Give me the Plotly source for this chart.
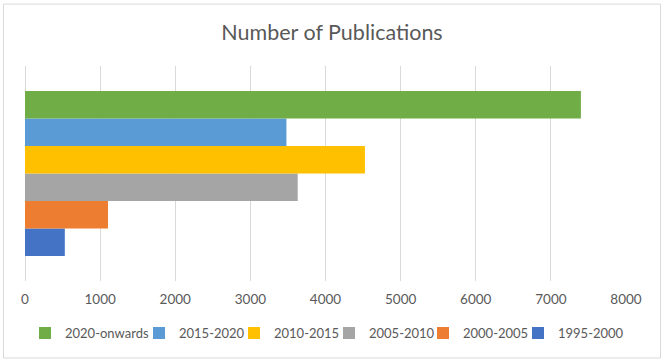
"""
Number of Publications - horizontal grouped bar chart
"""

import plotly.graph_objects as go

# Data
periods = ['1995-2000', '2000-2005', '2005-2010', '2010-2015', '2015-2020', '2020-onwards']
publications = [530, 1105, 3630, 4525, 3480, 7400]
colors = ['#4472C4', '#ED7D31', '#A5A5A5', '#FFC000', '#5B9BD5', '#70AD47']
category = ['Publications']
x_ticks = [0, 1000, 2000, 3000, 4000, 5000, 6000, 7000, 8000]

FONT = 'Lato, "Open Sans", sans-serif'

# Left edge (px) of each legend entry's text, in the same order as periods.
# Each entry gets its own legend so the row can be packed like the original.
legend_text_px = [556, 461, 367, 272, 177, 63]
PLOT_L, PLOT_W = 25, 601

fig = go.Figure()

legend_layouts = {}
for i, (period, value, color) in enumerate(zip(periods, publications, colors)):
    key = 'legend' if i == 0 else f'legend{i + 1}'
    fig.add_trace(go.Bar(
        name=period,
        x=[value],
        y=category,
        orientation='h',
        marker=dict(color=color, line=dict(width=0)),
        legend=key,
        showlegend=True,
    ))
    legend_layouts[key] = dict(
        orientation='h',
        x=(legend_text_px[i] - 38 - PLOT_L) / PLOT_W,
        xanchor='left',
        y=-0.242,
        yanchor='middle',
        font=dict(size=13, color='#595959'),
        itemwidth=30,
        bgcolor='rgba(0,0,0,0)',
    )

fig.update_layout(
    width=664,
    height=363,
    showlegend=True,
    barmode='group',
    bargap=0.233,
    bargroupgap=0,
    paper_bgcolor='white',
    plot_bgcolor='white',
    font=dict(family=FONT, color='#595959', size=12),
    title=dict(
        text='Number of Publications',
        x=0.5,
        xref='container',
        y=1 - 32 / 363,
        yanchor='middle',
        font=dict(family=FONT, size=21.5, color='#595959'),
    ),
    xaxis=dict(
        range=[0, 8000],
        tickvals=x_ticks,
        showgrid=True,
        gridcolor='#d9d9d9',
        gridwidth=1,
        zeroline=True,
        zerolinecolor='#d9d9d9',
        zerolinewidth=1,
        showline=False,
        ticklabelstandoff=8,
        tickfont=dict(size=13.5, color='#595959'),
    ),
    yaxis=dict(
        showticklabels=False,
        showgrid=False,
        zeroline=False,
        showline=False,
    ),
    margin=dict(l=25, r=38, t=66, b=82, autoexpand=False),
    shapes=[
        dict(
            type='rect',
            xref='paper', yref='paper',
            x0=-0.0358, x1=1.0574, y0=-0.358, y1=1.288,
            line=dict(color='#d9d9d9', width=1),
            fillcolor='rgba(0,0,0,0)',
            layer='below',
        )
    ],
    **legend_layouts,
)

fig.write_html(
    "out.html",
    config=dict(displayModeBar=False),
    post_script="document.body.style.margin='0';document.body.style.overflow='hidden';",
)
